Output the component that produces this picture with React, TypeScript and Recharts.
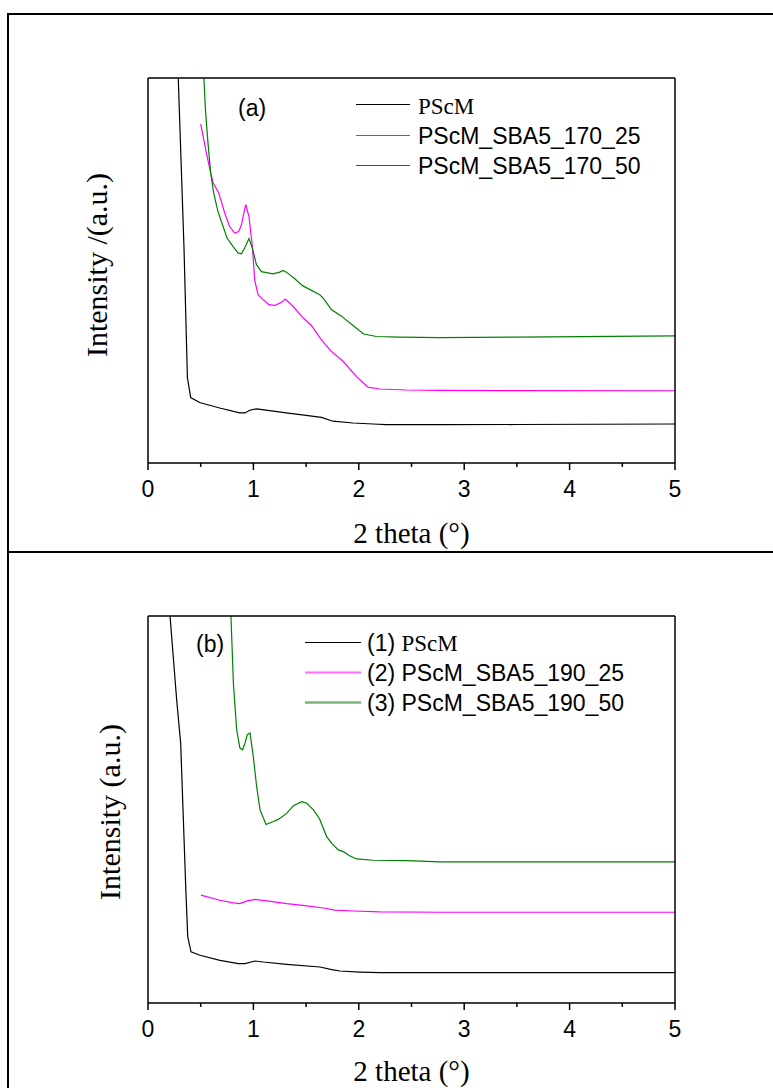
import React from 'react';
import { LineChart, Line, XAxis, YAxis } from 'recharts';

// 2 theta axis
const xTicks = [0, 0.5, 1, 1.5, 2, 2.5, 3, 3.5, 4, 4.5, 5];
const yTicksA = [0, 1, 2, 3, 4, 5, 6, 7];
const yTicksB = [0, 1, 2, 3, 4, 5, 6, 7, 8, 9];

const namesA = ['PScM', 'PScM_SBA5_170_25', 'PScM_SBA5_170_50'];
const namesB = ['(1) ', '(2) PScM_SBA5_190_25', '(3) PScM_SBA5_190_50'];
const colors = ['#000000', '#ff00ff', '#008000'];

// panel (a) – [2theta, intensity]
const pscmA = [
  [0.28, 7.5], [0.287, 7.0], [0.342, 3.88], [0.374, 1.55], [0.405, 1.19], [0.49, 1.1],
  [0.68, 1.0], [0.87, 0.91], [0.92, 0.91], [0.965, 0.96], [1.03, 0.985], [1.12, 0.96],
  [1.31, 0.91], [1.5, 0.865], [1.645, 0.83], [1.755, 0.76], [1.946, 0.727], [2.135, 0.709],
  [2.26, 0.696], [2.77, 0.696], [3.5, 0.7], [5.0, 0.709],
];
const sba170_25 = [
  [0.5, 6.16], [0.554, 5.64], [0.595, 5.27], [0.617, 5.1], [0.671, 4.91], [0.728, 4.545],
  [0.775, 4.3], [0.822, 4.18], [0.861, 4.21], [0.886, 4.33], [0.927, 4.7], [0.958, 4.48],
  [0.99, 3.94], [1.012, 3.33], [1.044, 3.06], [1.091, 2.97], [1.148, 2.88], [1.202, 2.865],
  [1.265, 2.92], [1.303, 2.98], [1.376, 2.85], [1.47, 2.64], [1.55, 2.5], [1.645, 2.24],
  [1.74, 2.03], [1.85, 1.85], [1.977, 1.575], [2.087, 1.38], [2.198, 1.345], [2.45, 1.327],
  [2.77, 1.32], [3.5, 1.315], [5.0, 1.314],
];
const sba170_50 = [
  [0.525, 7.5], [0.53, 7.01], [0.545, 6.42], [0.569, 5.82], [0.595, 5.27], [0.623, 4.91],
  [0.664, 4.57], [0.75, 4.09], [0.806, 3.94], [0.854, 3.82], [0.886, 3.805], [0.917, 3.91],
  [0.958, 4.08], [0.99, 3.91], [1.028, 3.61], [1.076, 3.48], [1.186, 3.44], [1.25, 3.47],
  [1.281, 3.5], [1.313, 3.47], [1.392, 3.35], [1.47, 3.22], [1.629, 3.06], [1.66, 3.0],
  [1.74, 2.79], [1.835, 2.67], [1.945, 2.5], [2.047, 2.345], [2.167, 2.3], [2.39, 2.29],
  [2.77, 2.28], [3.5, 2.29], [5.0, 2.31],
];

// panel (b)
const pscmB = [
  [0.199, 9.3], [0.209, 9.0], [0.272, 7.05], [0.31, 6.04], [0.335, 4.3], [0.358, 2.7],
  [0.377, 1.54], [0.408, 1.19], [0.493, 1.11], [0.683, 0.99], [0.857, 0.916], [0.92, 0.916],
  [1.015, 0.977], [1.094, 0.953], [1.316, 0.9], [1.632, 0.837], [1.743, 0.776], [1.822, 0.744],
  [2.01, 0.72], [2.2, 0.706], [2.77, 0.706], [5.0, 0.706],
];
const sba190_25 = [
  [0.502, 2.51], [0.683, 2.39], [0.81, 2.33], [0.87, 2.31], [0.936, 2.37], [1.015, 2.41],
  [1.126, 2.375], [1.316, 2.31], [1.506, 2.26], [1.663, 2.21], [1.774, 2.16], [1.948, 2.14],
  [2.2, 2.12], [2.77, 2.11], [5.0, 2.11],
];
const sba190_50 = [
  [0.785, 9.3], [0.787, 9.0], [0.81, 7.44], [0.841, 6.36], [0.872, 5.93], [0.898, 5.89],
  [0.92, 6.04], [0.942, 6.24], [0.968, 6.28], [0.999, 5.73], [1.031, 5.03], [1.063, 4.49],
  [1.12, 4.15], [1.19, 4.22], [1.236, 4.27], [1.316, 4.41], [1.379, 4.59], [1.458, 4.68],
  [1.506, 4.645], [1.569, 4.49], [1.616, 4.33], [1.632, 4.255], [1.695, 3.87], [1.743, 3.71],
  [1.806, 3.56], [1.853, 3.52], [1.916, 3.42], [1.98, 3.35], [2.138, 3.32], [2.454, 3.31],
  [2.77, 3.28], [5.0, 3.28],
];

const SANS = '"Liberation Sans", Arial, sans-serif';
const SERIF = '"Liberation Serif", "Times New Roman", serif';

const toRows = (pts: number[][]) => pts.map(([x, y]) => ({ x, y }));

const BottomTick = (props: any) => {
  const { x, y, payload } = props;
  const v = payload.value;
  const major = Number.isInteger(v);
  return (
    <g>
      <line x1={x} y1={y} x2={x} y2={y + (major ? 7 : 4)} stroke="#000" strokeWidth={1.5} />
      {major && (
        <text x={x} y={y + 34} textAnchor="middle" fontFamily={SANS} fontSize={23} fill="#000">
          {v}
        </text>
      )}
    </g>
  );
};

interface PanelProps {
  series: number[][][];
  names: string[];
  yMax: number;
  yTicks: number[];
  top: number;
  height: number;
  margin: { top: number; right: number; bottom: number; left: number };
}

const axisLine = { stroke: '#000', strokeWidth: 1.5 };
const innerTick = { stroke: '#000', strokeWidth: 1 };

const Panel: React.FC<PanelProps> = ({ series, names, yMax, yTicks, top, height, margin }) => (
  <div style={{ position: 'absolute', left: 0, top, width: 773, height }}>
    <LineChart width={773} height={height} margin={margin}>
      <XAxis
        xAxisId="b"
        type="number"
        dataKey="x"
        domain={[0, 5]}
        ticks={xTicks}
        height={1}
        tickSize={0}
        tickMargin={0}
        tickLine={false}
        tick={<BottomTick />}
        axisLine={axisLine}
        interval={0}
      />
      <XAxis
        xAxisId="t"
        type="number"
        orientation="top"
        domain={[0, 5]}
        ticks={xTicks}
        height={1}
        tick={false}
        tickSize={-3}
        tickLine={innerTick}
        axisLine={axisLine}
        interval={0}
      />
      <YAxis
        yAxisId="l"
        type="number"
        domain={[0, yMax]}
        ticks={yTicks}
        allowDataOverflow
        width={1}
        tick={false}
        tickSize={-3}
        tickLine={innerTick}
        axisLine={axisLine}
        interval={0}
      />
      <YAxis
        yAxisId="r"
        orientation="right"
        type="number"
        domain={[0, yMax]}
        ticks={yTicks}
        width={1}
        tick={false}
        tickSize={-3}
        tickLine={innerTick}
        axisLine={axisLine}
        interval={0}
      />
      {series.map((pts, i) => (
        <Line
          key={names[i]}
          name={names[i]}
          xAxisId="b"
          yAxisId="l"
          data={toRows(pts)}
          dataKey="y"
          type="linear"
          stroke={colors[i]}
          strokeWidth={1.2}
          dot={false}
          activeDot={false}
          isAnimationActive={false}
        />
      ))}
    </LineChart>
  </div>
);

const legendLine = (y: number, x1: number, x2: number, color: string, w = 1.2, op = 1) => (
  <line x1={x1} y1={y} x2={x2} y2={y} stroke={color} strokeWidth={w} strokeOpacity={op} />
);

export default function App() {
  return (
    <div style={{ position: 'absolute', left: 0, top: 0, width: 773, height: 1088, background: '#fff' }}>
      <Panel
        series={[pscmA, sba170_25, sba170_50]}
        names={namesA}
        yMax={7}
        yTicks={yTicksA}
        top={0}
        height={552}
        margin={{ top: 77, right: 97, bottom: 88, left: 147 }}
      />
      <Panel
        series={[pscmB, sba190_25, sba190_50]}
        names={namesB}
        yMax={9}
        yTicks={yTicksB}
        top={552}
        height={536}
        margin={{ top: 63, right: 97, bottom: 84, left: 147 }}
      />
      <svg
        width={773}
        height={1088}
        style={{ position: 'absolute', left: 0, top: 0, pointerEvents: 'none' }}
      >
        {/* frames */}
        <line x1={8} y1={14} x2={773} y2={14} stroke="#000" strokeWidth={2} />
        <line x1={8} y1={13} x2={8} y2={1088} stroke="#000" strokeWidth={2} />
        <line x1={8} y1={552} x2={773} y2={552} stroke="#000" strokeWidth={2} />

        {/* panel (a) */}
        <text x={238} y={116} fontFamily={SANS} fontSize={23}>(a)</text>
        {legendLine(104.5, 356, 410, colors[0])}
        {legendLine(135.5, 356, 410, colors[1])}
        {legendLine(165.5, 356, 410, colors[2])}
        <text x={418} y={113.5} fontFamily={SERIF} fontSize={23}>{namesA[0]}</text>
        <text x={418} y={144} fontFamily={SANS} fontSize={23}>{namesA[1]}</text>
        <text x={418} y={174} fontFamily={SANS} fontSize={23}>{namesA[2]}</text>
        <text
          x={107}
          y={265}
          transform="rotate(-90 107 265)"
          textAnchor="middle"
          fontFamily={SERIF}
          fontSize={30}
        >
          Intensity /(a.u.)
        </text>
        <text x={411.5} y={543} textAnchor="middle" fontFamily={SERIF} fontSize={29}>
          2 theta (°)
        </text>

        {/* panel (b) */}
        <text x={196} y={652} fontFamily={SANS} fontSize={23}>(b)</text>
        {legendLine(642.5, 305, 361, colors[0])}
        {legendLine(672.5, 305, 361, '#ff55ff', 2.2, 0.85)}
        {legendLine(702.5, 305, 361, '#4a9e4a', 2.6, 0.75)}
        <text x={367} y={651} fontFamily={SANS} fontSize={23}>
          {namesB[0]}
          <tspan fontFamily={SERIF}>PScM</tspan>
        </text>
        <text x={367} y={681} fontFamily={SANS} fontSize={23}>{namesB[1]}</text>
        <text x={367} y={711} fontFamily={SANS} fontSize={23}>{namesB[2]}</text>
        <text
          x={120}
          y={812}
          transform="rotate(-90 120 812)"
          textAnchor="middle"
          fontFamily={SERIF}
          fontSize={30}
        >
          Intensity (a.u.)
        </text>
        <text x={411.5} y={1081} textAnchor="middle" fontFamily={SERIF} fontSize={29}>
          2 theta (°)
        </text>
      </svg>
    </div>
  );
}
